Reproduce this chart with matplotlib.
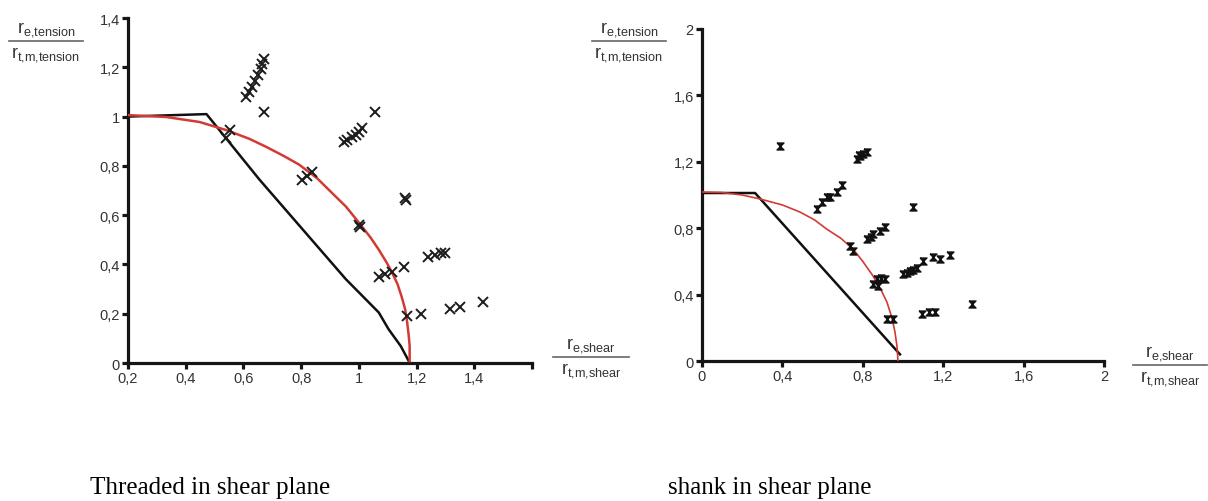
import numpy as np
import matplotlib
matplotlib.use('Agg')
import matplotlib.pyplot as plt
from matplotlib.lines import Line2D
from matplotlib.path import Path

plt.rcParams['font.family'] = ['Liberation Sans', 'DejaVu Sans']

# left panel: threaded part in shear plane
thr_x = [0.61, 0.62, 0.63, 0.64, 0.65, 0.66, 0.665, 0.672, 0.672,
         0.541, 0.552, 0.803, 0.82, 0.838,
         0.948, 0.96, 0.976, 0.99, 1.0, 1.01, 1.055,
         1.0, 1.005, 1.16, 1.165,
         1.069, 1.09, 1.114, 1.155, 1.166, 1.214,
         1.241, 1.265, 1.286, 1.30, 1.317, 1.352, 1.431]
thr_y = [1.08, 1.10, 1.12, 1.145, 1.17, 1.195, 1.215, 1.235, 1.018,
         0.913, 0.945, 0.743, 0.76, 0.776,
         0.897, 0.905, 0.917, 0.927, 0.937, 0.953, 1.018,
         0.56, 0.553, 0.67, 0.66,
         0.35, 0.36, 0.37, 0.39, 0.19, 0.198,
         0.43, 0.44, 0.445, 0.448, 0.218, 0.226, 0.246]

thr_lin_x = [0.2, 0.472, 0.655, 0.955, 1.069, 1.103, 1.145, 1.172]
thr_lin_y = [1.0, 1.01, 0.745, 0.34, 0.205, 0.137, 0.069, 0.01]

thr_ell_x = [0.2, 0.334, 0.448, 0.541, 0.62, 0.679, 0.74, 0.793, 0.855, 0.907,
             0.955, 1.0, 1.04, 1.069, 1.095, 1.114, 1.134, 1.148, 1.16, 1.166,
             1.172, 1.176, 1.176]
thr_ell_y = [1.006, 0.998, 0.978, 0.945, 0.91, 0.877, 0.84, 0.805, 0.75, 0.69,
             0.635, 0.57, 0.51, 0.46, 0.41, 0.37, 0.32, 0.27, 0.22, 0.178,
             0.12, 0.07, 0.008]

# right panel: shank in shear plane
shk_x = [0.388, 0.572, 0.597, 0.62, 0.637, 0.672, 0.697,
         0.771, 0.78, 0.786, 0.80, 0.821,
         0.736, 0.751, 0.821, 0.84, 0.851, 0.886, 0.91,
         0.851, 0.871, 0.876, 0.89, 0.91,
         1.05, 0.92, 0.95,
         1.0, 1.02, 1.035, 1.05, 1.07, 1.10, 1.15, 1.184, 1.234,
         1.095, 1.128, 1.16, 1.343]
shk_y = [1.295, 0.916, 0.958, 0.99, 0.988, 1.018, 1.06,
         1.217, 1.24, 1.235, 1.25, 1.259,
         0.693, 0.663, 0.735, 0.75, 0.765, 0.783, 0.807,
         0.464, 0.494, 0.452, 0.50, 0.494,
         0.93, 0.253, 0.253,
         0.524, 0.53, 0.542, 0.55, 0.56, 0.60, 0.627, 0.614, 0.638,
         0.283, 0.293, 0.293, 0.343]

shk_lin_x = [0.0, 0.264, 0.985]
shk_lin_y = [1.012, 1.012, 0.04]

shk_ell_x = [0.0, 0.1, 0.2, 0.289, 0.4, 0.488, 0.56, 0.62, 0.69, 0.751, 0.80,
             0.851, 0.89, 0.92, 0.945, 0.96, 0.97, 0.975]
shk_ell_y = [1.018, 1.015, 1.0, 0.976, 0.94, 0.897, 0.85, 0.795, 0.74, 0.675, 0.60,
             0.512, 0.43, 0.355, 0.26, 0.175, 0.09, 0.0]

thr_ticks_x = [0.2, 0.4, 0.6, 0.8, 1.0, 1.2, 1.4, 1.6]
thr_labels_x = ['0,2', '0,4', '0,6', '0,8', '1', '1,2', '1,4', '']
thr_ticks_y = [0, 0.2, 0.4, 0.6, 0.8, 1.0, 1.2, 1.4]
thr_labels_y = ['0', '0,2', '0,4', '0,6', '0,8', '1', '1,2', '1,4']
shk_ticks = [0, 0.4, 0.8, 1.2, 1.6, 2.0]
shk_labels = ['0', '0,4', '0,8', '1,2', '1,6', '2']

W, H = 1208, 502
fig = plt.figure(figsize=(W / 100, H / 100), dpi=100)

red = '#d23a35'
hourglass = Path([(-1, 1), (1, 1), (-1, -1), (1, -1), (-1, 1)])


def style(ax):
    for s in ['top', 'right']:
        ax.spines[s].set_visible(False)
    for s in ['left', 'bottom']:
        ax.spines[s].set_linewidth(2.3)
        ax.spines[s].set_color('#151515')
    ax.tick_params(direction='out', length=4, width=2.3, color='#151515',
                   labelsize=10.5, labelcolor='#333333', pad=2)


ax1 = fig.add_axes([128 / W, 1 - 364 / H, 404 / W, 345 / H])
ax1.plot(thr_lin_x, thr_lin_y, color='#111111', lw=1.8, zorder=2)
ax1.plot(thr_ell_x, thr_ell_y, color=red, lw=1.8, zorder=3)
ax1.plot(thr_x, thr_y, ls='none', marker='x', ms=7, mew=1.4, color='#1c1c1c', zorder=4)
ax1.set_xlim(0.2, 1.6)
ax1.set_ylim(0, 1.4)
ax1.set_xticks(thr_ticks_x)
ax1.set_xticklabels(thr_labels_x)
ax1.set_yticks(thr_ticks_y)
ax1.set_yticklabels(thr_labels_y)
style(ax1)

ax2 = fig.add_axes([702 / W, 1 - 362 / H, 402 / W, 332 / H])
ax2.plot(shk_lin_x, shk_lin_y, color='#111111', lw=1.8, zorder=2)
ax2.plot(shk_ell_x, shk_ell_y, color=red, lw=1.2, zorder=3)
ax2.plot(shk_x, shk_y, ls='none', marker=hourglass, ms=5, color='#111111', zorder=4)
ax2.set_xlim(0, 2)
ax2.set_ylim(0, 2)
ax2.set_xticks(shk_ticks)
ax2.set_xticklabels(shk_labels)
ax2.set_yticks(shk_ticks)
ax2.set_yticklabels(shk_labels)
style(ax2)


def frac(cx, cy, top, bot, half):
    # fraction label drawn in pixel coordinates of the figure
    fig.text(cx / W, 1 - (cy - 3) / H, top, ha='center', va='bottom',
             fontsize=13, color='#333333')
    fig.text(cx / W, 1 - (cy + 3) / H, bot, ha='center', va='top',
             fontsize=13, color='#333333')
    fig.add_artist(Line2D([(cx - half) / W, (cx + half) / W], [1 - cy / H, 1 - cy / H],
                          color='#666666', lw=1.2))


num_t = r'$\mathregular{r_{e{,}tension}}$'
den_t = r'$\mathregular{r_{t{,}m{,}tension}}$'
num_s = r'$\mathregular{r_{e{,}shear}}$'
den_s = r'$\mathregular{r_{t{,}m{,}shear}}$'

frac(46, 42, num_t, den_t, 37)
frac(629, 42, num_t, den_t, 37)
frac(591, 358, num_s, den_s, 38)
frac(1170, 366, num_s, den_s, 37)

fig.text(90 / W, 1 - 494 / H, 'Threaded in shear plane', family='Liberation Serif',
         fontsize=18, va='baseline', ha='left', color='black')
fig.text(668 / W, 1 - 494 / H, 'shank in shear plane', family='Liberation Serif',
         fontsize=18, va='baseline', ha='left', color='black')

fig.savefig('out.png', dpi=100)
